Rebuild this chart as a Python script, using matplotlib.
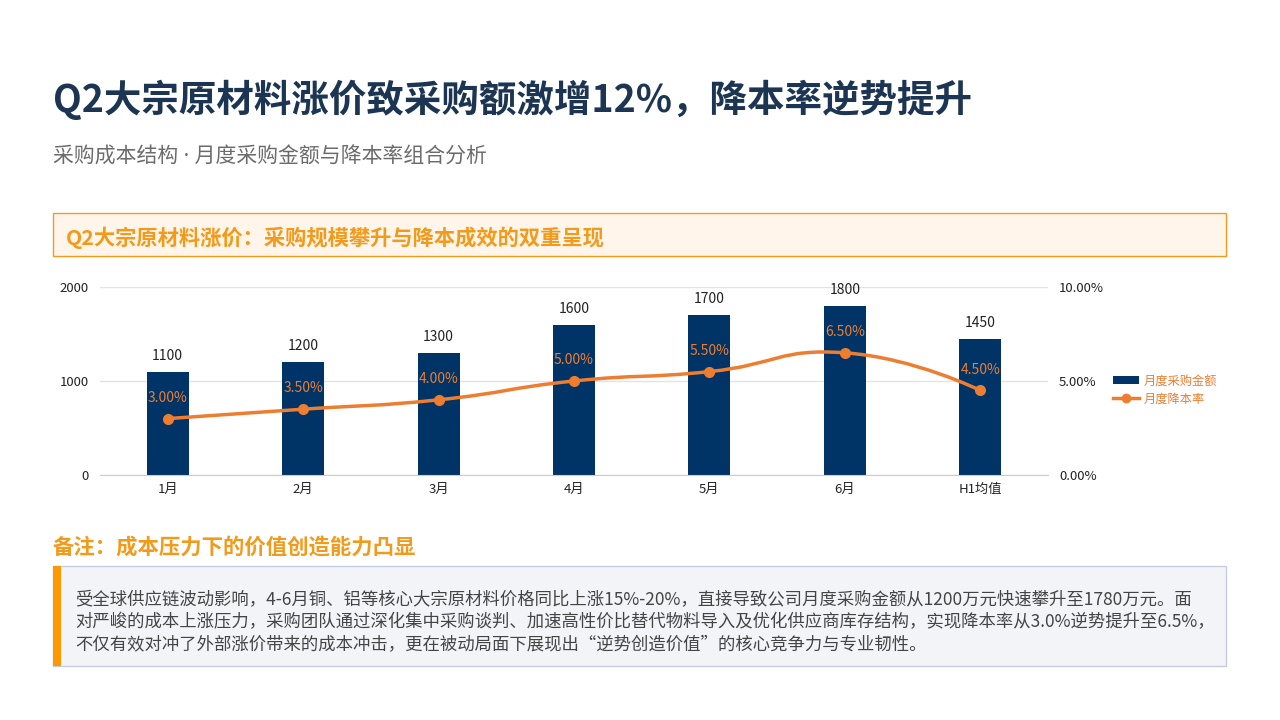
import matplotlib
matplotlib.use("Agg")
import matplotlib.pyplot as plt
import numpy as np
from matplotlib.path import Path
from matplotlib.patches import PathPatch, Rectangle
from matplotlib.lines import Line2D

plt.rcParams['font.family'] = ['Noto Sans CJK SC', 'DejaVu Sans']

categories = ['1月', '2月', '3月', '4月', '5月', '6月', 'H1均值']
amounts = [1100, 1200, 1300, 1600, 1700, 1800, 1450]
rates = [3.00, 3.50, 4.00, 5.00, 5.50, 6.50, 4.50]
left_ticks = [0, 1000, 2000]
right_ticks = [0, 5, 10]
right_tick_labels = ['0.00%', '5.00%', '10.00%']
series_names = ['月度采购金额', '月度降本率']

title = 'Q2大宗原材料涨价致采购额激增12%，降本率逆势提升'
subtitle = '采购成本结构 · 月度采购金额与降本率组合分析'
box_title = 'Q2大宗原材料涨价：采购规模攀升与降本成效的双重呈现'
note_title = '备注：成本压力下的价值创造能力凸显'
note_lines = [
    '受全球供应链波动影响，4-6月铜、铝等核心大宗原材料价格同比上涨15%-20%，直接导致公司月度采购金额从1200万元快速攀升至1780万元。面',
    '对严峻的成本上涨压力，采购团队通过深化集中采购谈判、加速高性价比替代物料导入及优化供应商库存结构，实现降本率从3.0%逆势提升至6.5%，',
    '不仅有效对冲了外部涨价带来的成本冲击，更在被动局面下展现出“逆势创造价值”的核心竞争力与专业韧性。',
]

NAVY = '#003366'
ORANGE = '#ED7D31'
TITLE_C = '#1c3553'
ACCENT = '#F39A1B'

W, H = 1280, 720
fig = plt.figure(figsize=(12.8, 7.2), dpi=100)
fig.patch.set_facecolor('white')

def fx(x):
    return x / W

def fy(y):
    return 1 - y / H

# Titles
fig.text(fx(53), fy(100), title, fontsize=27, fontweight='bold', color=TITLE_C, va='center', ha='left')
fig.text(fx(53), fy(157), subtitle, fontsize=15, color='#6b6b6b', va='center', ha='left',
         family=['Noto Sans', 'Noto Sans CJK SC'])

# Header box
fig.patches.append(Rectangle((fx(53), fy(256)), fx(1226 - 53), (256 - 213) / H, transform=fig.transFigure,
                             facecolor='#FFF5EA', edgecolor=ACCENT, linewidth=1.0))
fig.text(fx(66), fy(238), box_title, fontsize=15.3, fontweight='bold', color=ACCENT, va='center', ha='left')

# Chart
ax = fig.add_axes([fx(100), fy(475), (1048 - 100) / W, (475 - 287) / H])
x = np.arange(len(categories))
ax.bar(x, amounts, width=0.31, color=NAVY, zorder=2)
ax.set_xlim(-0.5, len(categories) - 0.5)
ax.set_ylim(0, 2000)
ax.set_yticks(left_ticks)
ax.set_yticklabels([str(t) for t in left_ticks])
ax.set_xticks(x)
ax.set_xticklabels(categories)
ax.tick_params(axis='both', length=0, labelsize=9.5, colors='#222222')
ax.tick_params(axis='y', pad=8)
ax.tick_params(axis='x', pad=6)
ax.grid(axis='y', color='#e3e3e3', linewidth=1, zorder=0)
for s in ['top', 'right', 'left']:
    ax.spines[s].set_visible(False)
ax.spines['bottom'].set_color('#cccccc')
for xi, v in zip(x, amounts):
    ax.annotate(str(v), (xi, v), xytext=(0, 11.5), textcoords='offset points', ha='center', va='center',
                fontsize=10, color='#222222')

ax2 = ax.twinx()
ax2.set_ylim(0, 10)
ax2.set_yticks(right_ticks)
ax2.set_yticklabels(right_tick_labels)
ax2.tick_params(axis='y', length=0, labelsize=9.5, colors='#222222', pad=8)
for s in ['top', 'right', 'left', 'bottom']:
    ax2.spines[s].set_visible(False)

# smooth line (echarts-like smoothing, smooth=0.5)
sx, sy = 135.5, 18.8
P = np.column_stack([x * sx, np.array(rates) * sy])
n = len(P)
smooth = 0.5
cps = []
for i in range(n):
    if i == 0 or i == n - 1:
        cps.append((P[i], P[i]))
        continue
    prev, nxt = P[i - 1], P[i + 1]
    v = nxt - prev
    d0 = np.linalg.norm(P[i] - prev)
    d1 = np.linalg.norm(P[i] - nxt)
    tot = d0 + d1
    cp0 = P[i] - v * smooth * d0 / tot
    cp1 = P[i] + v * smooth * d1 / tot
    cps.append((cp0, cp1))
verts = [P[0]]
codes = [Path.MOVETO]
for i in range(n - 1):
    verts += [cps[i][1], cps[i + 1][0], P[i + 1]]
    codes += [Path.CURVE4] * 3
verts = np.array(verts) / np.array([sx, sy])
path = Path(verts, codes)
ax2.add_patch(PathPatch(path, facecolor='none', edgecolor=ORANGE, linewidth=2.5, zorder=3))
ax2.plot(x, rates, linestyle='none', marker='o', markersize=7, color=ORANGE, zorder=4)
for xi, r in zip(x, rates):
    ax2.annotate(f'{r:.2f}%', (xi, r), xytext=(0, 15), textcoords='offset points', ha='center', va='center',
                 fontsize=10, color=ORANGE)

# legend
handles = [Rectangle((0, 0), 1, 1, facecolor=NAVY, edgecolor='none'),
           Line2D([0], [0], color=ORANGE, linewidth=2.5, marker='o', markersize=6)]
fig.legend(handles, series_names, loc='center left', bbox_to_anchor=(fx(1102), fy(390)), frameon=False,
           fontsize=8.8, labelcolor=ORANGE, handlelength=2.1, handleheight=0.6, handletextpad=0.45,
           labelspacing=0.4)

# Note
fig.text(fx(53), fy(547), note_title, fontsize=15.4, fontweight='bold', color=ACCENT, va='center', ha='left')
fig.patches.append(Rectangle((fx(53), fy(666)), fx(1226 - 53), (666 - 566) / H, transform=fig.transFigure,
                             facecolor='#F2F4F7', edgecolor='#C5CCE0', linewidth=1.0))
fig.patches.append(Rectangle((fx(53), fy(666)), fx(8), (666 - 566) / H, transform=fig.transFigure,
                             facecolor='#FF9800', edgecolor='none'))
for i, line in enumerate(note_lines):
    fig.text(fx(75), fy(600 + 22.5 * i), line, fontsize=12.5, color='#444444', va='center', ha='left')

fig.savefig('out.png', dpi=100, facecolor='white')
